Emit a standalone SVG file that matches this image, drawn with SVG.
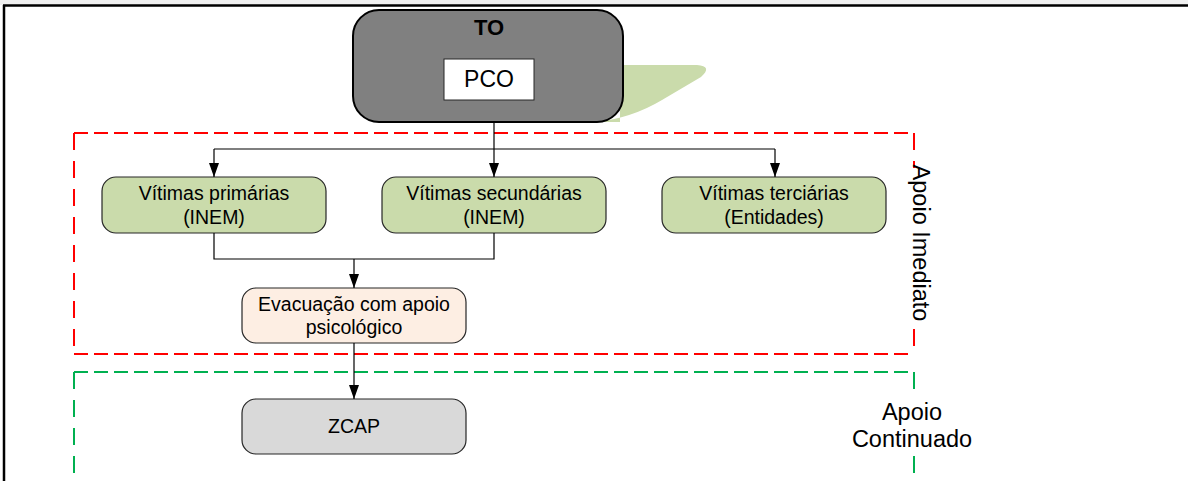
<svg xmlns="http://www.w3.org/2000/svg" width="1188" height="481" viewBox="0 0 1188 481">
  <defs>
    <marker id="arrow" markerUnits="userSpaceOnUse" markerWidth="14" markerHeight="10" refX="14" refY="5" orient="auto">
      <path d="M0,0 L14,5 L0,10 Z" fill="#000"/>
    </marker>
    <style>
      text { font-family: "Liberation Sans", Arial, sans-serif; fill: #000; }
      .box { stroke: #262626; stroke-width: 1.2; }
      .victim { fill: #cadbab; }
      .lbl { font-size: 19.5px; text-anchor: middle; }
      .side { font-size: 23.5px; text-anchor: middle; }
      .conn { fill: none; stroke: #000; stroke-width: 1.2; }
      .red { fill: none; stroke: #ff0000; stroke-width: 2; }
      .green { fill: none; stroke: #00b050; stroke-width: 2; }
    </style>
  </defs>

  <!-- page header band and frame -->
  <rect x="0" y="0" width="1188" height="5" fill="#f0f0f0"/>
  <line x1="3" y1="5.5" x2="1188" y2="5.5" stroke="#000" stroke-width="2.5"/>
  <line x1="4" y1="5" x2="4" y2="481" stroke="#000" stroke-width="2.5"/>

  <!-- phase frames -->
  <g id="frame-imediato">
    <path class="red" d="M74,133 H914" stroke-dasharray="14 6"/>
    <path class="red" d="M74,354 H914" stroke-dasharray="14 6"/>
    <path class="red" d="M74,133 V354 M914,133 V354" stroke-dasharray="17 11"/>
    <rect x="904" y="168" width="32" height="160" fill="#fff"/>
    <text class="side" transform="translate(913,243) rotate(90)">Apoio Imediato</text>
  </g>
  <g id="frame-continuado">
    <path class="green" d="M74,372 H914" stroke-dasharray="14 6"/>
    <path class="green" d="M74,372 V481 M914,372 V481" stroke-dasharray="17 11"/>
    <rect x="845" y="398" width="135" height="57" fill="#fff"/>
    <text class="side" x="912" y="420">Apoio</text>
    <text class="side" x="912" y="447">Continuado</text>
  </g>

  <!-- command post -->
  <g id="node-to">
    <path d="M600,122 L620,122 L620,65 L697,65 Q713,66 701,77 L662,100 Q632,118 596,122 Z" fill="#cadbab"/>
    <rect x="353" y="10" width="270" height="112" rx="26" ry="26" fill="#808080" stroke="#000" stroke-width="2"/>
    <text x="489" y="35" font-size="22" font-weight="bold" text-anchor="middle">TO</text>
  </g>
  <g id="node-pco">
    <rect x="444" y="59" width="90" height="41" fill="#fff" stroke="#262626" stroke-width="1"/>
    <text x="489" y="87" font-size="23" text-anchor="middle">PCO</text>
  </g>

  <!-- victim groups -->
  <g id="node-primarias">
    <rect class="box victim" x="102" y="177" width="224" height="56" rx="14" ry="14"/>
    <text class="lbl" x="214" y="200">Vítimas primárias</text>
    <text class="lbl" x="214" y="224">(INEM)</text>
  </g>
  <g id="node-secundarias">
    <rect class="box victim" x="382" y="177" width="224" height="56" rx="14" ry="14"/>
    <text class="lbl" x="494" y="200">Vítimas secundárias</text>
    <text class="lbl" x="494" y="224">(INEM)</text>
  </g>
  <g id="node-terciarias">
    <rect class="box victim" x="662" y="177" width="224" height="56" rx="14" ry="14"/>
    <text class="lbl" x="774" y="200">Vítimas terciárias</text>
    <text class="lbl" x="774" y="224">(Entidades)</text>
  </g>

  <!-- evacuation and shelter -->
  <g id="node-evacuacao">
    <rect class="box" x="242" y="288" width="224" height="55" rx="14" ry="14" fill="#fdeee3"/>
    <text class="lbl" x="354" y="311">Evacuação com apoio</text>
    <text class="lbl" x="354" y="334">psicológico</text>
  </g>
  <g id="node-zcap">
    <rect class="box" x="242" y="399" width="224" height="55" rx="14" ry="14" fill="#d9d9d9"/>
    <text class="lbl" x="354" y="433">ZCAP</text>
  </g>

  <!-- connectors -->
  <g id="connectors">
    <path class="conn" d="M494,122 V177" marker-end="url(#arrow)"/>
    <path class="conn" d="M214,149 H775"/>
    <path class="conn" d="M214,149 V177" marker-end="url(#arrow)"/>
    <path class="conn" d="M775,149 V177" marker-end="url(#arrow)"/>
    <path class="conn" d="M214,233 V259 H494 V233"/>
    <path class="conn" d="M354,259 V288" marker-end="url(#arrow)"/>
    <path class="conn" d="M354,343 V399" marker-end="url(#arrow)"/>
  </g>
</svg>
